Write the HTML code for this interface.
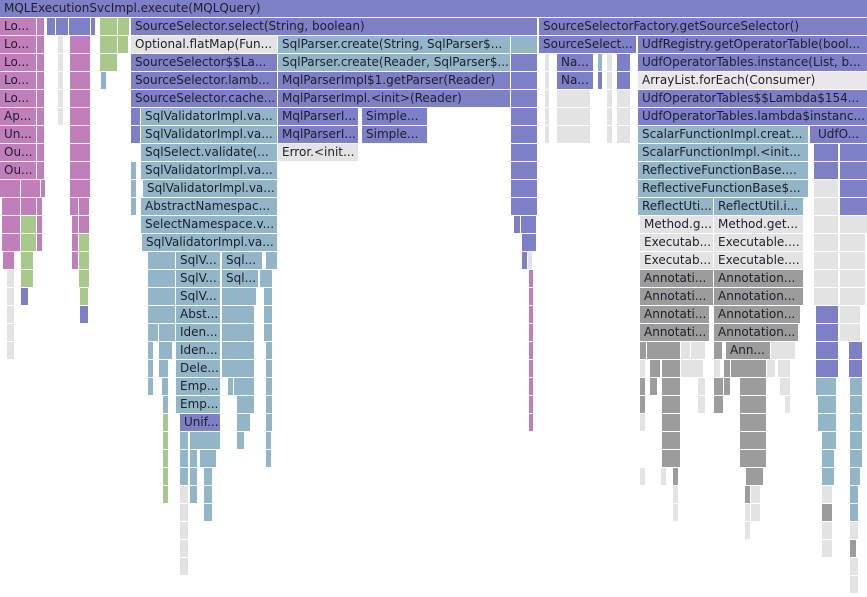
<!DOCTYPE html>
<html><head><meta charset="utf-8"><style>
html,body{margin:0;padding:0;background:#fff;}
#c{position:relative;width:867px;height:597px;overflow:hidden;background:#fff;}
i{position:absolute;height:17px;font:12px/17px "DejaVu Sans","Liberation Sans",sans-serif;font-style:normal;padding-left:4px;box-sizing:border-box;overflow:hidden;white-space:nowrap;color:#1e1e2a;}
.b{background:#7d80c6}.l{background:#8eb0cc}.p{background:#c07fba}.g{background:#a9c98c}
.w{background:#e3e3e3}.d{background:#9c9c9c}.e{background:#ebe6e9}.t{background:#92b6c8}
</style></head><body><div id="c">
<!-- row0 -->
<i class="b" style="left:0;top:0;width:867px">MQLExecutionSvcImpl.execute(MQLQuery)</i>
<!-- row1 y18 -->
<i class="p" style="left:0;top:18px;width:36px">Lo...</i>
<i class="p" style="left:37px;top:18px;width:7px"></i>
<i class="b" style="left:47px;top:18px;width:8px"></i>
<i class="b" style="left:56px;top:18px;width:12px"></i>
<i class="b" style="left:69px;top:18px;width:21px"></i>
<i class="b" style="left:91px;top:18px;width:4px"></i>
<i class="g" style="left:100px;top:18px;width:17px"></i>
<i class="g" style="left:118px;top:18px;width:11px"></i>
<i class="b" style="left:131px;top:18px;width:406px">SourceSelector.select(String, boolean)</i>
<i class="b" style="left:539px;top:18px;width:328px">SourceSelectorFactory.getSourceSelector()</i>
<!-- row2 y36 -->
<i class="p" style="left:0;top:36px;width:36px">Lo...</i>
<i class="p" style="left:37px;top:36px;width:7px"></i>
<i class="w" style="left:58px;top:36px;width:5px"></i>
<i class="p" style="left:70px;top:36px;width:20px"></i>
<i class="g" style="left:100px;top:36px;width:17px"></i>
<i class="g" style="left:118px;top:36px;width:10px"></i>
<i class="w" style="left:131px;top:36px;width:146px">Optional.flatMap(Fun...</i>
<i class="t" style="left:278px;top:36px;width:232px">SqlParser.create(String, SqlParser$...</i>
<i class="t" style="left:511px;top:36px;width:26px"></i>
<i class="b" style="left:539px;top:36px;width:97px">SourceSelect...</i>
<i class="b" style="left:638px;top:36px;width:229px">UdfRegistry.getOperatorTable(bool...</i>
<!-- row3 y54 -->
<i class="p" style="left:0;top:54px;width:36px">Lo...</i>
<i class="p" style="left:37px;top:54px;width:7px"></i>
<i class="w" style="left:58px;top:54px;width:5px"></i>
<i class="p" style="left:70px;top:54px;width:20px"></i>
<i class="g" style="left:100px;top:54px;width:17px"></i>
<i class="b" style="left:131px;top:54px;width:146px">SourceSelector$$La...</i>
<i class="t" style="left:278px;top:54px;width:232px">SqlParser.create(Reader, SqlParser$...</i>
<i class="b" style="left:511px;top:54px;width:26px"></i>
<i class="w" style="left:545px;top:54px;width:4px"></i>
<i class="b" style="left:557px;top:54px;width:36px">Na...</i>
<i class="t" style="left:598px;top:54px;width:4px"></i>
<i class="w" style="left:607px;top:54px;width:5px"></i>
<i class="b" style="left:617px;top:54px;width:13px"></i>
<i class="b" style="left:638px;top:54px;width:229px">UdfOperatorTables.instance(List, b...</i>
<!-- row4 y72 -->
<i class="p" style="left:0;top:72px;width:36px">Lo...</i>
<i class="p" style="left:37px;top:72px;width:7px"></i>
<i class="w" style="left:58px;top:72px;width:5px"></i>
<i class="p" style="left:70px;top:72px;width:20px"></i>
<i class="l" style="left:101px;top:72px;width:5px"></i>
<i class="b" style="left:131px;top:72px;width:146px">SourceSelector.lamb...</i>
<i class="b" style="left:278px;top:72px;width:232px">MqlParserImpl$1.getParser(Reader)</i>
<i class="b" style="left:511px;top:72px;width:26px"></i>
<i class="w" style="left:545px;top:72px;width:4px"></i>
<i class="b" style="left:557px;top:72px;width:36px">Na...</i>
<i class="b" style="left:598px;top:72px;width:4px"></i>
<i class="w" style="left:607px;top:72px;width:5px"></i>
<i class="b" style="left:617px;top:72px;width:13px"></i>
<i class="e" style="left:638px;top:72px;width:229px">ArrayList.forEach(Consumer)</i>
<!-- row5 y90 -->
<i class="p" style="left:0;top:90px;width:36px">Lo...</i>
<i class="p" style="left:37px;top:90px;width:7px"></i>
<i class="w" style="left:58px;top:90px;width:5px"></i>
<i class="p" style="left:70px;top:90px;width:20px"></i>
<i class="b" style="left:131px;top:90px;width:146px">SourceSelector.cache...</i>
<i class="b" style="left:278px;top:90px;width:232px">MqlParserImpl.&lt;init&gt;(Reader)</i>
<i class="b" style="left:511px;top:90px;width:26px"></i>
<i class="w" style="left:545px;top:90px;width:4px"></i>
<i class="w" style="left:557px;top:90px;width:33px"></i>
<i class="w" style="left:607px;top:90px;width:5px"></i>
<i class="w" style="left:617px;top:90px;width:13px"></i>
<i class="b" style="left:638px;top:90px;width:229px">UdfOperatorTables$$Lambda$154...</i>
<!-- row6 y108 -->
<i class="p" style="left:0;top:108px;width:36px">Ap...</i>
<i class="p" style="left:37px;top:108px;width:7px"></i>
<i class="w" style="left:58px;top:108px;width:5px"></i>
<i class="p" style="left:70px;top:108px;width:20px"></i>
<i class="b" style="left:131px;top:108px;width:9px"></i>
<i class="t" style="left:141px;top:108px;width:136px">SqlValidatorImpl.va...</i>
<i class="b" style="left:278px;top:108px;width:80px">MqlParserI...</i>
<i class="b" style="left:362px;top:108px;width:65px">Simple...</i>
<i class="b" style="left:511px;top:108px;width:26px"></i>
<i class="w" style="left:545px;top:108px;width:4px"></i>
<i class="w" style="left:557px;top:108px;width:33px"></i>
<i class="w" style="left:607px;top:108px;width:5px"></i>
<i class="w" style="left:617px;top:108px;width:13px"></i>
<i class="b" style="left:638px;top:108px;width:229px">UdfOperatorTables.lambda$instanc...</i>
<!-- row7 y126 -->
<i class="p" style="left:0;top:126px;width:36px">Un...</i>
<i class="p" style="left:37px;top:126px;width:7px"></i>
<i class="p" style="left:70px;top:126px;width:20px"></i>
<i class="b" style="left:131px;top:126px;width:9px"></i>
<i class="t" style="left:141px;top:126px;width:136px">SqlValidatorImpl.va...</i>
<i class="b" style="left:278px;top:126px;width:80px">MqlParserI...</i>
<i class="b" style="left:362px;top:126px;width:65px">Simple...</i>
<i class="b" style="left:511px;top:126px;width:26px"></i>
<i class="w" style="left:545px;top:126px;width:4px"></i>
<i class="w" style="left:557px;top:126px;width:33px"></i>
<i class="w" style="left:607px;top:126px;width:5px"></i>
<i class="w" style="left:617px;top:126px;width:13px"></i>
<i class="t" style="left:638px;top:126px;width:170px">ScalarFunctionImpl.creat...</i>
<i class="b" style="left:810px;top:126px;width:3px"></i>
<i class="b" style="left:814px;top:126px;width:53px">UdfO...</i>
<!-- row8 y144 -->
<i class="p" style="left:0;top:144px;width:36px">Ou...</i>
<i class="p" style="left:37px;top:144px;width:7px"></i>
<i class="p" style="left:70px;top:144px;width:20px"></i>
<i class="t" style="left:141px;top:144px;width:136px">SqlSelect.validate(...</i>
<i class="w" style="left:278px;top:144px;width:80px">Error.&lt;init...</i>
<i class="b" style="left:511px;top:144px;width:26px"></i>
<i class="t" style="left:638px;top:144px;width:170px">ScalarFunctionImpl.&lt;init...</i>
<i class="b" style="left:814px;top:144px;width:24px"></i>
<i class="b" style="left:840px;top:144px;width:27px"></i>
<!-- row9 y162 -->
<i class="p" style="left:0;top:162px;width:36px">Ou...</i>
<i class="p" style="left:37px;top:162px;width:7px"></i>
<i class="p" style="left:70px;top:162px;width:20px"></i>
<i class="t" style="left:131px;top:162px;width:5px"></i>
<i class="t" style="left:141px;top:162px;width:136px">SqlValidatorImpl.va...</i>
<i class="b" style="left:511px;top:162px;width:26px"></i>
<i class="t" style="left:638px;top:162px;width:170px">ReflectiveFunctionBase....</i>
<i class="b" style="left:814px;top:162px;width:24px"></i>
<i class="b" style="left:840px;top:162px;width:27px"></i>
<!-- row10 y180 -->
<i class="p" style="left:0;top:180px;width:20px"></i>
<i class="p" style="left:21px;top:180px;width:19px"></i>
<i class="p" style="left:41px;top:180px;width:3px"></i>
<i class="p" style="left:70px;top:180px;width:20px"></i>
<i class="t" style="left:131px;top:180px;width:5px"></i>
<i class="t" style="left:143px;top:180px;width:134px">SqlValidatorImpl.va...</i>
<i class="b" style="left:511px;top:180px;width:26px"></i>
<i class="t" style="left:638px;top:180px;width:170px">ReflectiveFunctionBase$...</i>
<i class="w" style="left:814px;top:180px;width:24px"></i>
<i class="b" style="left:840px;top:180px;width:27px"></i>
<!-- row11 y198 -->
<i class="p" style="left:2px;top:198px;width:18px"></i>
<i class="p" style="left:21px;top:198px;width:15px"></i>
<i class="p" style="left:37px;top:198px;width:5px"></i>
<i class="p" style="left:70px;top:198px;width:8px"></i>
<i class="p" style="left:79px;top:198px;width:10px"></i>
<i class="t" style="left:131px;top:198px;width:5px"></i>
<i class="t" style="left:141px;top:198px;width:136px">AbstractNamespac...</i>
<i class="b" style="left:511px;top:198px;width:26px"></i>
<i class="t" style="left:638px;top:198px;width:75px">ReflectUti...</i>
<i class="t" style="left:714px;top:198px;width:89px">ReflectUtil.i...</i>
<i class="w" style="left:814px;top:198px;width:24px"></i>
<i class="b" style="left:840px;top:198px;width:27px"></i>
<!-- row12 y216 -->
<i class="p" style="left:2px;top:216px;width:18px"></i>
<i class="g" style="left:21px;top:216px;width:15px"></i>
<i class="p" style="left:37px;top:216px;width:5px"></i>
<i class="p" style="left:72px;top:216px;width:6px"></i>
<i class="p" style="left:79px;top:216px;width:10px"></i>
<i class="t" style="left:141px;top:216px;width:136px">SelectNamespace.v...</i>
<i class="b" style="left:514px;top:216px;width:6px"></i>
<i class="b" style="left:521px;top:216px;width:15px"></i>
<i class="w" style="left:640px;top:216px;width:73px">Method.g...</i>
<i class="w" style="left:714px;top:216px;width:89px">Method.get...</i>
<i class="w" style="left:814px;top:216px;width:24px"></i>
<i class="w" style="left:840px;top:216px;width:27px"></i>
<!-- row13 y234 -->
<i class="p" style="left:2px;top:234px;width:18px"></i>
<i class="g" style="left:21px;top:234px;width:15px"></i>
<i class="p" style="left:37px;top:234px;width:5px"></i>
<i class="p" style="left:72px;top:234px;width:6px"></i>
<i class="g" style="left:79px;top:234px;width:10px"></i>
<i class="t" style="left:142px;top:234px;width:135px">SqlValidatorImpl.va...</i>
<i class="b" style="left:522px;top:234px;width:14px"></i>
<i class="w" style="left:640px;top:234px;width:73px">Executab...</i>
<i class="w" style="left:714px;top:234px;width:89px">Executable....</i>
<i class="w" style="left:814px;top:234px;width:24px"></i>
<i class="w" style="left:840px;top:234px;width:25px"></i>
<!-- row14 y252 -->
<i class="p" style="left:3px;top:252px;width:11px"></i>
<i class="g" style="left:21px;top:252px;width:12px"></i>
<i class="p" style="left:72px;top:252px;width:6px"></i>
<i class="g" style="left:79px;top:252px;width:10px"></i>
<i class="t" style="left:148px;top:252px;width:27px"></i>
<i class="t" style="left:176px;top:252px;width:44px">SqlV...</i>
<i class="t" style="left:222px;top:252px;width:40px">Sql...</i>
<i class="t" style="left:266px;top:252px;width:11px"></i>
<i class="b" style="left:522px;top:252px;width:5px"></i>
<i class="w" style="left:528px;top:252px;width:4px"></i>
<i class="w" style="left:640px;top:252px;width:73px">Executab...</i>
<i class="w" style="left:714px;top:252px;width:89px">Executable....</i>
<i class="w" style="left:814px;top:252px;width:24px"></i>
<i class="w" style="left:840px;top:252px;width:25px"></i>
<!-- row15 y270 -->
<i class="w" style="left:7px;top:270px;width:7px"></i>
<i class="g" style="left:21px;top:270px;width:12px"></i>
<i class="g" style="left:79px;top:270px;width:10px"></i>
<i class="t" style="left:148px;top:270px;width:27px"></i>
<i class="t" style="left:176px;top:270px;width:44px">SqlV...</i>
<i class="t" style="left:222px;top:270px;width:36px">Sql...</i>
<i class="t" style="left:260px;top:270px;width:3px"></i>
<i class="t" style="left:264px;top:270px;width:8px"></i>
<i class="p" style="left:529px;top:270px;width:4px"></i>
<i class="d" style="left:640px;top:270px;width:73px">Annotati...</i>
<i class="d" style="left:714px;top:270px;width:89px">Annotation...</i>
<i class="w" style="left:814px;top:270px;width:24px"></i>
<i class="w" style="left:840px;top:270px;width:25px"></i>
<!-- row16 y288 -->
<i class="w" style="left:7px;top:288px;width:7px"></i>
<i class="b" style="left:21px;top:288px;width:7px"></i>
<i class="g" style="left:80px;top:288px;width:8px"></i>
<i class="t" style="left:148px;top:288px;width:27px"></i>
<i class="t" style="left:176px;top:288px;width:44px">SqlV...</i>
<i class="t" style="left:222px;top:288px;width:34px"></i>
<i class="t" style="left:264px;top:288px;width:8px"></i>
<i class="p" style="left:529px;top:288px;width:4px"></i>
<i class="d" style="left:640px;top:288px;width:73px">Annotati...</i>
<i class="d" style="left:714px;top:288px;width:89px">Annotation...</i>
<i class="w" style="left:814px;top:288px;width:24px"></i>
<i class="w" style="left:840px;top:288px;width:25px"></i>
<!-- row17 y306 -->
<i class="w" style="left:7px;top:306px;width:7px"></i>
<i class="b" style="left:80px;top:306px;width:8px"></i>
<i class="t" style="left:148px;top:306px;width:27px"></i>
<i class="t" style="left:176px;top:306px;width:44px">Abst...</i>
<i class="t" style="left:222px;top:306px;width:32px"></i>
<i class="t" style="left:264px;top:306px;width:8px"></i>
<i class="p" style="left:529px;top:306px;width:4px"></i>
<i class="d" style="left:640px;top:306px;width:69px">Annotati...</i>
<i class="d" style="left:714px;top:306px;width:86px">Annotation...</i>
<i class="b" style="left:816px;top:306px;width:22px"></i>
<i class="w" style="left:840px;top:306px;width:20px"></i>
<!-- row18 y324 -->
<i class="w" style="left:7px;top:324px;width:7px"></i>
<i class="t" style="left:148px;top:324px;width:10px"></i>
<i class="t" style="left:159px;top:324px;width:16px"></i>
<i class="t" style="left:176px;top:324px;width:44px">Iden...</i>
<i class="t" style="left:222px;top:324px;width:32px"></i>
<i class="t" style="left:264px;top:324px;width:8px"></i>
<i class="p" style="left:529px;top:324px;width:4px"></i>
<i class="d" style="left:640px;top:324px;width:69px">Annotati...</i>
<i class="d" style="left:714px;top:324px;width:84px">Annotation...</i>
<i class="b" style="left:816px;top:324px;width:22px"></i>
<i class="w" style="left:840px;top:324px;width:20px"></i>
<!-- row19 y342 -->
<i class="w" style="left:7px;top:342px;width:7px"></i>
<i class="t" style="left:148px;top:342px;width:5px"></i>
<i class="t" style="left:159px;top:342px;width:13px"></i>
<i class="t" style="left:176px;top:342px;width:44px">Iden...</i>
<i class="t" style="left:222px;top:342px;width:32px"></i>
<i class="t" style="left:266px;top:342px;width:6px"></i>
<i class="p" style="left:529px;top:342px;width:4px"></i>
<i class="d" style="left:640px;top:342px;width:6px"></i>
<i class="d" style="left:647px;top:342px;width:33px"></i>
<i class="w" style="left:681px;top:342px;width:9px"></i>
<i class="w" style="left:691px;top:342px;width:14px"></i>
<i class="d" style="left:714px;top:342px;width:8px"></i>
<i class="d" style="left:726px;top:342px;width:44px">Ann...</i>
<i class="w" style="left:771px;top:342px;width:24px"></i>
<i class="b" style="left:816px;top:342px;width:22px"></i>
<i class="b" style="left:849px;top:342px;width:13px"></i>
<!-- row20 y360 -->
<i class="t" style="left:148px;top:360px;width:5px"></i>
<i class="t" style="left:159px;top:360px;width:9px"></i>
<i class="t" style="left:176px;top:360px;width:44px">Dele...</i>
<i class="t" style="left:222px;top:360px;width:32px"></i>
<i class="t" style="left:266px;top:360px;width:6px"></i>
<i class="p" style="left:529px;top:360px;width:4px"></i>
<i class="w" style="left:640px;top:360px;width:5px"></i>
<i class="d" style="left:650px;top:360px;width:10px"></i>
<i class="d" style="left:662px;top:360px;width:18px"></i>
<i class="w" style="left:681px;top:360px;width:22px"></i>
<i class="w" style="left:714px;top:360px;width:6px"></i>
<i class="d" style="left:724px;top:360px;width:6px"></i>
<i class="d" style="left:731px;top:360px;width:35px"></i>
<i class="w" style="left:767px;top:360px;width:8px"></i>
<i class="w" style="left:778px;top:360px;width:12px"></i>
<i class="b" style="left:816px;top:360px;width:22px"></i>
<i class="b" style="left:849px;top:360px;width:13px"></i>
<!-- row21 y378 -->
<i class="t" style="left:148px;top:378px;width:5px"></i>
<i class="t" style="left:162px;top:378px;width:6px"></i>
<i class="t" style="left:176px;top:378px;width:44px">Emp...</i>
<i class="t" style="left:228px;top:378px;width:5px"></i>
<i class="t" style="left:234px;top:378px;width:20px"></i>
<i class="t" style="left:266px;top:378px;width:6px"></i>
<i class="p" style="left:529px;top:378px;width:4px"></i>
<i class="d" style="left:640px;top:378px;width:5px"></i>
<i class="d" style="left:650px;top:378px;width:7px"></i>
<i class="d" style="left:662px;top:378px;width:18px"></i>
<i class="w" style="left:698px;top:378px;width:7px"></i>
<i class="d" style="left:714px;top:378px;width:9px"></i>
<i class="d" style="left:724px;top:378px;width:6px"></i>
<i class="d" style="left:740px;top:378px;width:26px"></i>
<i class="w" style="left:780px;top:378px;width:10px"></i>
<i class="t" style="left:816px;top:378px;width:20px"></i>
<i class="t" style="left:850px;top:378px;width:12px"></i>
<!-- row22 y396 -->
<i class="t" style="left:163px;top:396px;width:5px"></i>
<i class="t" style="left:176px;top:396px;width:44px">Emp...</i>
<i class="t" style="left:237px;top:396px;width:17px"></i>
<i class="t" style="left:266px;top:396px;width:6px"></i>
<i class="p" style="left:529px;top:396px;width:4px"></i>
<i class="d" style="left:640px;top:396px;width:5px"></i>
<i class="d" style="left:662px;top:396px;width:18px"></i>
<i class="w" style="left:698px;top:396px;width:7px"></i>
<i class="d" style="left:714px;top:396px;width:9px"></i>
<i class="d" style="left:740px;top:396px;width:26px"></i>
<i class="w" style="left:785px;top:396px;width:5px"></i>
<i class="t" style="left:818px;top:396px;width:18px"></i>
<i class="t" style="left:850px;top:396px;width:12px"></i>
<!-- row23 y414 -->
<i class="g" style="left:163px;top:414px;width:5px"></i>
<i class="b" style="left:180px;top:414px;width:40px">Unif...</i>
<i class="t" style="left:237px;top:414px;width:13px"></i>
<i class="t" style="left:266px;top:414px;width:6px"></i>
<i class="p" style="left:529px;top:414px;width:4px"></i>
<i class="w" style="left:640px;top:414px;width:5px"></i>
<i class="d" style="left:662px;top:414px;width:18px"></i>
<i class="d" style="left:740px;top:414px;width:26px"></i>
<i class="t" style="left:818px;top:414px;width:18px"></i>
<i class="t" style="left:850px;top:414px;width:12px"></i>
<!-- row24 y432 -->
<i class="g" style="left:163px;top:432px;width:5px"></i>
<i class="t" style="left:180px;top:432px;width:8px"></i>
<i class="t" style="left:190px;top:432px;width:30px"></i>
<i class="t" style="left:237px;top:432px;width:7px"></i>
<i class="t" style="left:266px;top:432px;width:5px"></i>
<i class="d" style="left:662px;top:432px;width:18px"></i>
<i class="d" style="left:740px;top:432px;width:26px"></i>
<i class="t" style="left:822px;top:432px;width:14px"></i>
<i class="t" style="left:850px;top:432px;width:12px"></i>
<!-- row25 y450 -->
<i class="g" style="left:163px;top:450px;width:5px"></i>
<i class="t" style="left:180px;top:450px;width:8px"></i>
<i class="t" style="left:190px;top:450px;width:7px"></i>
<i class="t" style="left:200px;top:450px;width:16px"></i>
<i class="t" style="left:266px;top:450px;width:5px"></i>
<i class="d" style="left:662px;top:450px;width:18px"></i>
<i class="d" style="left:740px;top:450px;width:26px"></i>
<i class="t" style="left:822px;top:450px;width:12px"></i>
<i class="t" style="left:850px;top:450px;width:12px"></i>
<!-- row26 y468 -->
<i class="g" style="left:163px;top:468px;width:5px"></i>
<i class="t" style="left:180px;top:468px;width:8px"></i>
<i class="t" style="left:190px;top:468px;width:7px"></i>
<i class="t" style="left:204px;top:468px;width:8px"></i>
<i class="w" style="left:640px;top:468px;width:5px"></i>
<i class="w" style="left:661px;top:468px;width:5px"></i>
<i class="d" style="left:673px;top:468px;width:5px"></i>
<i class="d" style="left:746px;top:468px;width:17px"></i>
<i class="t" style="left:822px;top:468px;width:12px"></i>
<i class="t" style="left:850px;top:468px;width:10px"></i>
<!-- row27 y486 -->
<i class="g" style="left:163px;top:486px;width:5px"></i>
<i class="w" style="left:180px;top:486px;width:8px"></i>
<i class="t" style="left:190px;top:486px;width:7px"></i>
<i class="t" style="left:204px;top:486px;width:8px"></i>
<i class="w" style="left:673px;top:486px;width:5px"></i>
<i class="d" style="left:745px;top:486px;width:5px"></i>
<i class="w" style="left:751px;top:486px;width:9px"></i>
<i class="w" style="left:822px;top:486px;width:10px"></i>
<i class="t" style="left:850px;top:486px;width:8px"></i>
<!-- row28 y504 -->
<i class="w" style="left:180px;top:504px;width:8px"></i>
<i class="t" style="left:204px;top:504px;width:8px"></i>
<i class="w" style="left:673px;top:504px;width:5px"></i>
<i class="w" style="left:745px;top:504px;width:5px"></i>
<i class="w" style="left:751px;top:504px;width:9px"></i>
<i class="d" style="left:822px;top:504px;width:10px"></i>
<i class="t" style="left:850px;top:504px;width:8px"></i>
<!-- row29+ -->
<i class="w" style="left:180px;top:522px;width:8px"></i>
<i class="w" style="left:745px;top:522px;width:5px"></i>
<i class="w" style="left:822px;top:522px;width:10px"></i>
<i class="w" style="left:850px;top:522px;width:8px"></i>
<i class="w" style="left:180px;top:540px;width:8px"></i>
<i class="w" style="left:822px;top:540px;width:10px"></i>
<i class="d" style="left:850px;top:540px;width:6px"></i>
<i class="w" style="left:180px;top:558px;width:8px"></i>
<i class="w" style="left:850px;top:558px;width:8px"></i>
<i class="w" style="left:850px;top:576px;width:8px"></i>
</div></body></html>
